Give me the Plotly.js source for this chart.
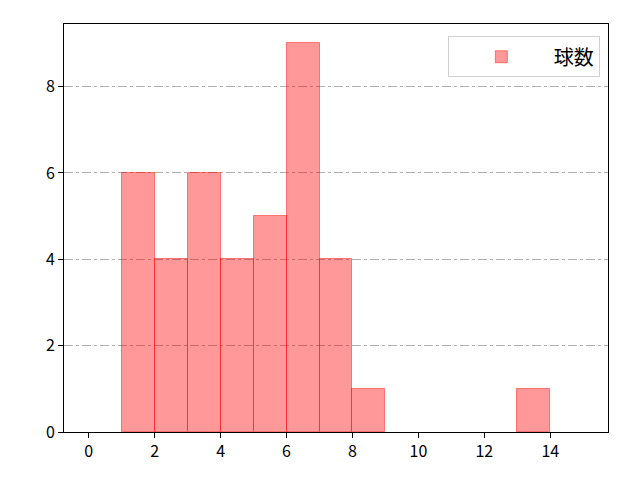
<!DOCTYPE html>
<html><head><meta charset="utf-8">
<script src="https://cdn.plot.ly/plotly-3.0.1.min.js"></script>
<style>body{margin:0}</style>
</head><body>
<div id="chart" style="width:640px;height:480px"></div>
<script>
const binStarts = [0,1,2,3,4,5,6,7,8,9,10,11,12,13,14];
const counts    = [0,6,4,6,4,5,9,4,1,0,0,0,0,1,0];
const binWidth = 1;
const seriesName = "球数";
const xTicks = [0,2,4,6,8,10,12,14];
const yTicks = [0,2,4,6,8];

const trace = {
  type: "bar",
  x: binStarts,
  y: counts.map(c => c === 0 ? null : c),
  width: binWidth,
  offset: 0,
  name: seriesName,
  marker: {color: "rgba(255,0,0,0.4)", line: {color: "rgba(255,0,0,0.45)", width: 1}},
  showlegend: true
};
const font = {family: "'Noto Sans CJK JP', 'DejaVu Sans', sans-serif", size: 16, color: "#000"};
const layout = {
  width: 640, height: 480,
  margin: {l: 64, r: 32, t: 24, b: 48},
  paper_bgcolor: "#fff", plot_bgcolor: "#fff",
  font: font,
  bargap: 0,
  xaxis: {range: [-0.75, 15.75], tickvals: xTicks, ticks: "outside", ticklen: 5, tickcolor: "#000",
    showgrid: false, zeroline: false, showline: true, linecolor: "#000", linewidth: 1, mirror: true},
  yaxis: {range: [0, 9.45], tickvals: yTicks, ticks: "outside", ticklen: 5, tickcolor: "#000",
    showgrid: true, gridcolor: "#b0b0b0", griddash: "dashdot", gridwidth: 1,
    zeroline: false, showline: true, linecolor: "#000", linewidth: 1, mirror: true},
  legend: {x: 0.985, y: 0.97, xanchor: "right", yanchor: "top", bordercolor: "#d0d0d0", borderwidth: 1,
    bgcolor: "rgba(255,255,255,0.8)", itemwidth: 95, font: {family: font.family, size: 20}},
  showlegend: true
};
Plotly.newPlot("chart", [trace], layout, {displayModeBar: false});
</script>
</body></html>
